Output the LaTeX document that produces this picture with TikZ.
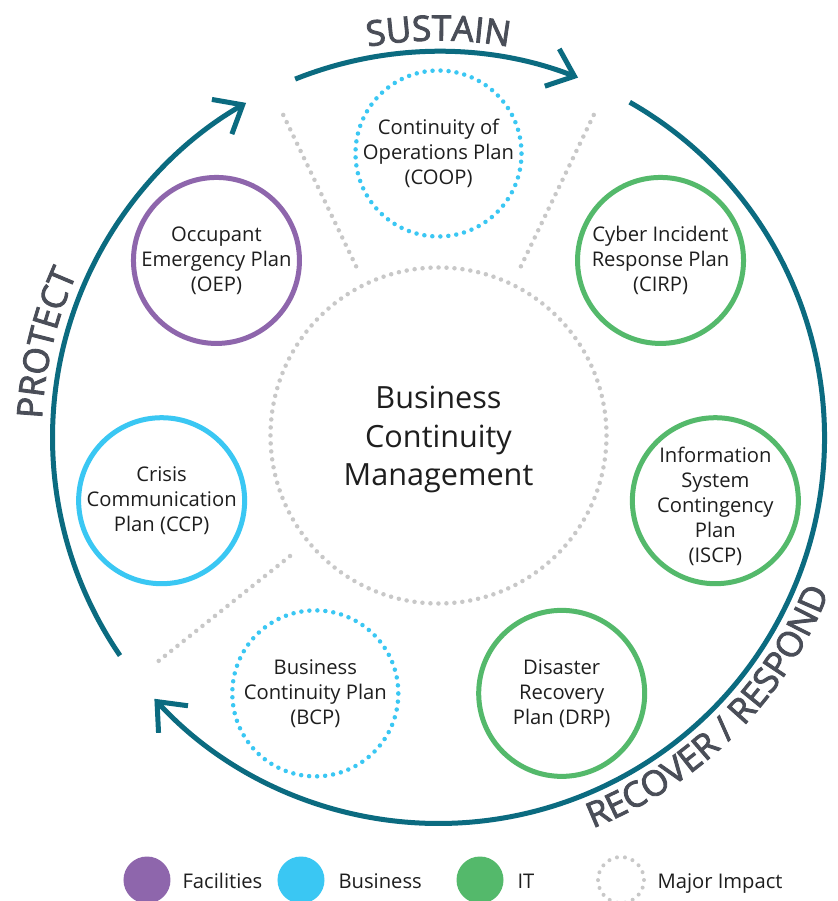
\documentclass[tikz,border=0pt]{standalone}
\usepackage{fontspec}
\setmainfont{Open Sans}
\newfontfamily\lblfont{Open Sans}[FakeBold=2.5]
\usetikzlibrary{arrows.meta,decorations.text}

\definecolor{ringteal}{HTML}{0B6B80}
\definecolor{facpurple}{HTML}{8E66AC}
\definecolor{busblue}{HTML}{3AC7F3}
\definecolor{itgreen}{HTML}{54B96B}
\definecolor{dotgray}{HTML}{C8C8C8}
\definecolor{labelgray}{HTML}{4A4E58}
\definecolor{inkblack}{HTML}{1E1E1E}

\begin{document}
\begin{tikzpicture}[x=1pt,y=1pt,
  planring/.style={circle, draw, line width=5pt, minimum size=166pt, inner sep=0pt},
  dotring/.style={circle, draw, line width=4.5pt, line cap=round,
    dash pattern=on 0pt off 8.02pt, minimum size=166pt, inner sep=0pt},
  plantext/.style={align=center, text=inkblack, font=\fontsize{20.2}{25}\selectfont},
  cycarrow/.style={draw=ringteal, line width=5pt,
    -{Straight Barb[length=24pt, width=40pt]}},
  divider/.style={draw=dotgray, line width=4.5pt, line cap=round,
    dash pattern=on 0pt off 8pt},
  phase/.style={decorate, decoration={text along path, text align=center,
    text color=labelgray}},
  legdot/.style={circle, minimum size=47pt, inner sep=0pt},
  legtext/.style={anchor=base west, text=inkblack, font=\fontsize{20.2}{25}\selectfont}
]
\useasboundingbox[fill=white] (-438.5,-463.5) rectangle (398.5,437.5);

% outer cycle of three arrows
\draw[cycarrow] (111.8:386) arc[start angle=111.8, end angle=68.8, radius=386];
\draw[cycarrow] (60.3:386) arc[start angle=60.3, end angle=-137.4, radius=386];
\draw[cycarrow] (214.4:386) arc[start angle=214.4, end angle=119.9, radius=386];

% phase names set along the cycle
\path[phase, decoration={text={|\lblfont\fontsize{35}{35}\selectfont|SUSTAIN}}]
  (130:397) arc[start angle=130, end angle=50, radius=397];
\path[phase, decoration={text={|\lblfont\fontsize{35}{35}\selectfont|PROTECT}}]
  (206.5:397) arc[start angle=206.5, end angle=126.5, radius=397];
\path[phase, decoration={text={|\lblfont\fontsize{35}{35}\selectfont|RECOVER / RESPOND}}]
  (-90:420) arc[start angle=-90, end angle=0, radius=420];

% dotted dividers between the sectors
\coordinate (div1a) at (115.7:190); \coordinate (div1b) at (115.7:361);
\coordinate (div2a) at (64.3:190);  \coordinate (div2b) at (64.3:361);
\coordinate (div3a) at (218.6:190); \coordinate (div3b) at (218.6:361);
\draw[divider] (div1a) -- (div1b);
\draw[divider] (div2a) -- (div2b);
\draw[divider] (div3a) -- (div3b);

% central management circle
\node[circle, draw=dotgray, line width=4.5pt, line cap=round,
  dash pattern=on 0pt off 7.997pt, minimum size=336pt, inner sep=0pt] (bcm) at (0,2) {};
\node[align=center, text=inkblack, font=\fontsize{30.6}{38.5}\selectfont] (bcm-label)
  at (0,-2) {Business\\Continuity\\Management};

% plans around the centre
\node[dotring, draw=busblue] (coop) at (90:284) {};
\node[plantext] (coop-label) at (coop) {Continuity of\\Operations Plan\\(COOP)};

\node[planring, draw=facpurple] (oep) at (141.43:284) {};
\node[plantext] (oep-label) at (oep) {Occupant\\Emergency Plan\\(OEP)};

\node[planring, draw=busblue] (ccp) at (192.86:284) {};
\node[plantext] (ccp-label) at (ccp) {Crisis\\Communication\\Plan (CCP)};

\node[dotring, draw=busblue] (bcp) at (244.29:284) {};
\node[plantext] (bcp-label) at (bcp) {Business\\Continuity Plan\\(BCP)};

\node[planring, draw=itgreen] (drp) at (295.71:284) {};
\node[plantext] (drp-label) at (drp) {Disaster\\Recovery\\Plan (DRP)};

\node[planring, draw=itgreen] (iscp) at (347.14:284) {};
\node[plantext, yshift=-6pt] (iscp-label) at (iscp) {Information\\System\\Contingency\\Plan\\(ISCP)};

\node[planring, draw=itgreen] (cirp) at (38.57:284) {};
\node[plantext] (cirp-label) at (cirp) {Cyber Incident\\Response Plan\\(CIRP)};

% legend
\node[legdot, fill=facpurple] (leg-fac) at (-291.5,-442.5) {};
\node[legtext] (leg-fac-label) at (-259.5,-450.5) {Facilities};
\node[legdot, fill=busblue] (leg-bus) at (-137.5,-442.5) {};
\node[legtext] (leg-bus-label) at (-103.5,-450.5) {Business};
\node[legdot, fill=itgreen] (leg-it) at (41.5,-442.5) {};
\node[legtext] (leg-it-label) at (75.5,-450.5) {IT};
\node[circle, draw=dotgray, line width=4pt, line cap=round,
  dash pattern=on 0pt off 8.03pt, minimum size=46pt, inner sep=0pt] (leg-major) at (182.5,-442.5) {};
\node[legtext] (leg-major-label) at (215.5,-450.5) {Major Impact};
\end{tikzpicture}
\end{document}
